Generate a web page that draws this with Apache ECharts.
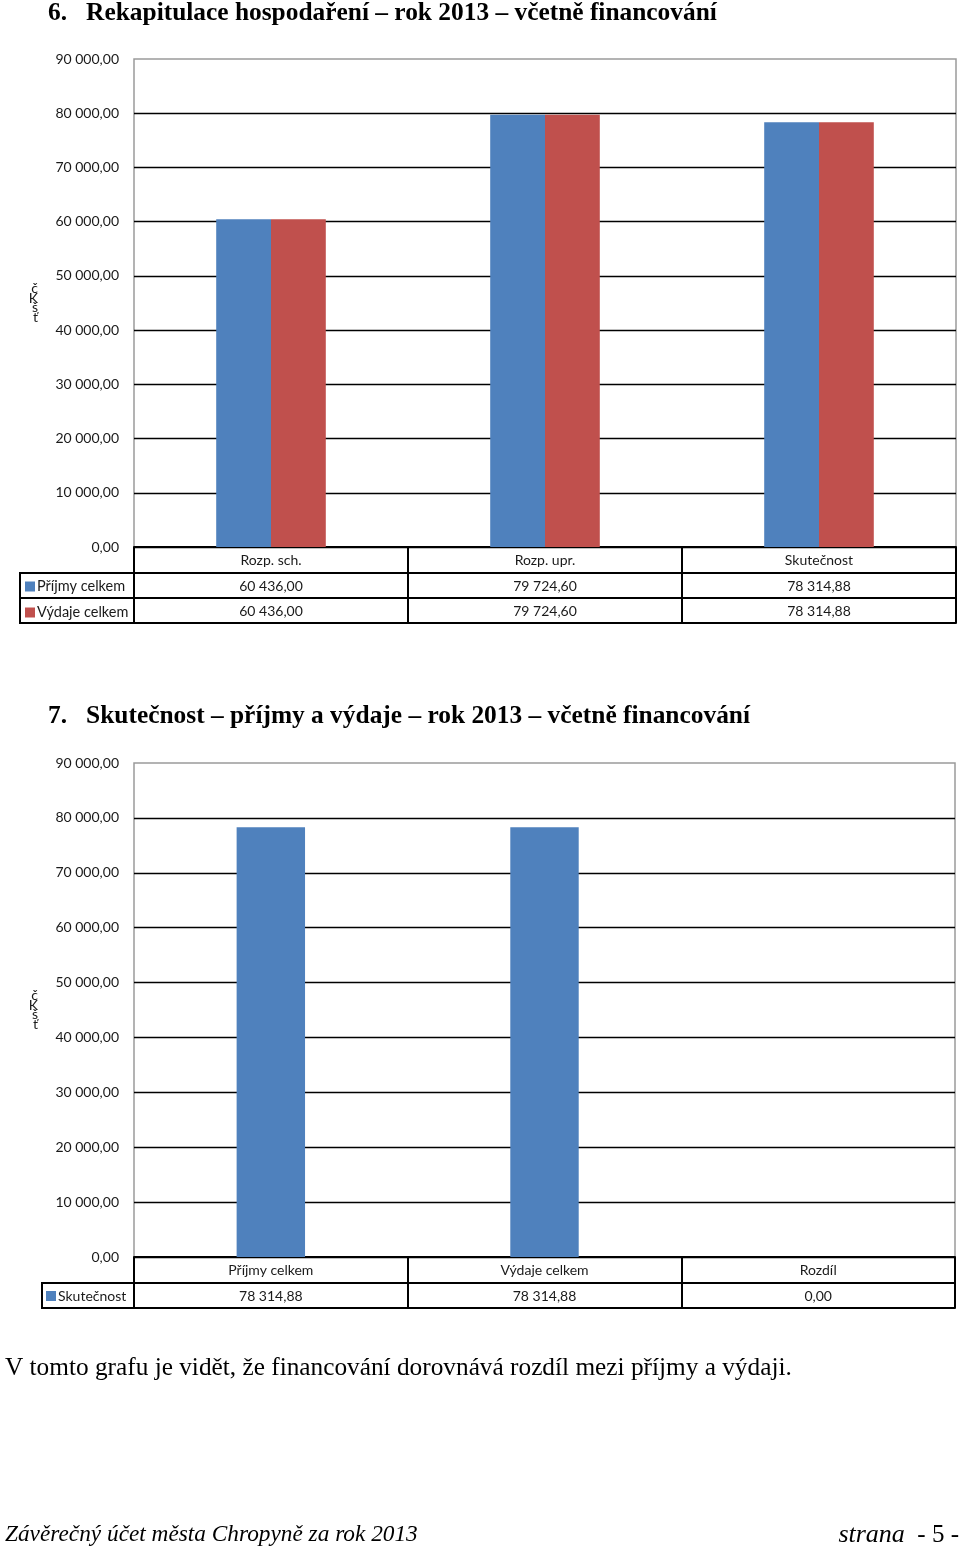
<!DOCTYPE html>
<html>
<head>
<meta charset="utf-8">
<script src="https://cdn.jsdelivr.net/npm/echarts@6/dist/echarts.min.js"></script>
<style>
html,body{margin:0;padding:0;background:#fff;}
#c{width:960px;height:1547px;}
</style>
</head>
<body>
<div id="c"></div>
<script>
// ---- data ----
const cats1 = ['Rozp. sch.', 'Rozp. upr.', 'Skutečnost'];
const prijmy1 = [60436.00, 79724.60, 78314.88];
const vydaje1 = [60436.00, 79724.60, 78314.88];
const cats2 = ['Příjmy celkem', 'Výdaje celkem', 'Rozdíl'];
const skutecnost2 = [78314.88, 78314.88, 0.00];
const yMin = 0, yMax = 90000, yStep = 10000;
const title1 = '6.\u2002 Rekapitulace hospodaření – rok 2013 – včetně financování';
const title2 = '7.\u2002 Skutečnost – příjmy a výdaje – rok 2013 – včetně financování';
const paragraph = 'V tomto grafu je vidět, že financování dorovnává rozdíl mezi příjmy a výdaji.';
const footerLeft = 'Závěrečný účet města Chropyně za rok 2013';
const yName = 'č\nK\nš\nť';

function fmt(v) {
  const s = Math.abs(v).toFixed(2).split('.');
  const i = s[0].replace(/\B(?=(\d{3})+(?!\d))/g, ' ');
  return (v < 0 ? '-' : '') + i + ',' + s[1];
}

const BLUE = '#4F81BD', RED = '#C0504D';
const FONT = 'Lato, "Open Sans", sans-serif';
const SERIF = '"Liberation Serif", "Times New Roman", "DejaVu Serif", serif';
const TXT = '#1a1a1a';
const LBL = {fontFamily: FONT, fontSize: 14, color: TXT, lineHeight: 14};

const chart = echarts.init(document.getElementById('c'), null, {renderer: 'canvas'});

function yAxisDef(gi) {
  return {
    type: 'value', gridIndex: gi, min: yMin, max: yMax, interval: yStep,
    axisLine: {show: false}, axisTick: {show: false},
    axisLabel: Object.assign({formatter: v => fmt(v), margin: 15}, LBL),
    splitLine: {show: true, showMaxLine: false, lineStyle: {color: '#000', width: 1.4}},
    name: yName, nameLocation: 'middle', nameRotate: 0, nameGap: 96,
    nameTextStyle: {fontFamily: FONT, fontSize: 14, lineHeight: 9.5, color: TXT}
  };
}
function mainX(gi, cats, tickLen) {
  return {
    type: 'category', gridIndex: gi, data: cats, position: 'bottom',
    axisLine: {show: true, lineStyle: {color: '#000', width: 2}},
    axisTick: {show: true, length: tickLen, lineStyle: {color: '#000', width: 2}},
    axisLabel: Object.assign({margin: 6}, LBL),
    splitLine: {show: false}
  };
}
function rowX(gi, labels, offset, showLabel) {
  return {
    type: 'category', gridIndex: gi, data: labels, position: 'bottom', offset: offset,
    axisLine: {show: true, lineStyle: {color: '#000', width: 2}},
    axisTick: {show: false},
    axisLabel: Object.assign({show: showLabel, margin: 6}, LBL),
    splitLine: {show: false}
  };
}

const G1 = {left: 134, top: 59, width: 822, height: 488};
const G2 = {left: 134, top: 763, width: 821, height: 494};
const g1b = G1.top + G1.height, g2b = G2.top + G2.height;

const option = {
  animation: false,
  backgroundColor: '#fff',
  title: [
    {text: title1, left: 48, top: 1, padding: 0, textStyle: {fontFamily: SERIF, fontWeight: 'bold', fontSize: 25.4, color: '#000'}},
    {text: title2, left: 48, top: 704, padding: 0, textStyle: {fontFamily: SERIF, fontWeight: 'bold', fontSize: 25.4, color: '#000'}},
    {text: paragraph, left: 5, top: 1356, padding: 0, textStyle: {fontFamily: SERIF, fontWeight: 'normal', fontSize: 25.3, color: '#000'}},
    {text: footerLeft, left: 5, top: 1523, padding: 0, textStyle: {fontFamily: SERIF, fontStyle: 'italic', fontWeight: 'normal', fontSize: 23.3, color: '#000'}},
    {text: '{a|strana}{b|  - 5 -}', right: 1, top: 1522, padding: 0, textStyle: {fontWeight: 'normal', rich: {
      a: {fontFamily: SERIF, fontStyle: 'italic', fontWeight: 'normal', fontSize: 26, color: '#000'},
      b: {fontFamily: SERIF, fontWeight: 'normal', fontSize: 25, color: '#000'}}}}
  ],
  legend: [
    {data: ['Příjmy celkem', 'Výdaje celkem'], orient: 'vertical', left: 25, top: g1b + 32, itemWidth: 10, itemHeight: 10, itemGap: 11,
     icon: 'rect', padding: 0, textStyle: {fontFamily: FONT, fontSize: 14.5, color: TXT, padding: [0, 0, 0, -3]}, selectedMode: false},
    {data: ['Skutečnost'], orient: 'vertical', left: 46, top: g2b + 32, itemWidth: 10, itemHeight: 10, itemGap: 11,
     icon: 'rect', padding: 0, textStyle: {fontFamily: FONT, fontSize: 14, color: TXT, padding: [0, 0, 0, -3]}, selectedMode: false}
  ],
  grid: [
    Object.assign({show: true, borderColor: '#9a9a9a', borderWidth: 1.5, backgroundColor: '#fff'}, G1),
    Object.assign({show: true, borderColor: '#9a9a9a', borderWidth: 1.5, backgroundColor: '#fff'}, G2)
  ],
  xAxis: [
    mainX(0, cats1, 76),
    rowX(0, prijmy1.map(fmt), 26, true),
    rowX(0, vydaje1.map(fmt), 51, true),
    rowX(0, cats1, 76, false),
    mainX(1, cats2, 51),
    rowX(1, skutecnost2.map(fmt), 26, true),
    rowX(1, cats2, 51, false)
  ],
  yAxis: [yAxisDef(0), yAxisDef(1)],
  series: [
    {name: 'Příjmy celkem', type: 'bar', xAxisIndex: 0, yAxisIndex: 0, data: prijmy1,
     itemStyle: {color: BLUE}, barGap: '0%', barCategoryGap: '60%'},
    {name: 'Výdaje celkem', type: 'bar', xAxisIndex: 0, yAxisIndex: 0, data: vydaje1,
     itemStyle: {color: RED}, barGap: '0%', barCategoryGap: '60%'},
    {name: 'Skutečnost', type: 'bar', xAxisIndex: 4, yAxisIndex: 1, data: skutecnost2,
     itemStyle: {color: BLUE}, barCategoryGap: '75%'}
  ],
  graphic: [
    // legend column borders of the data tables
    {type: 'polyline', shape: {points: [[G1.left, g1b + 26], [20, g1b + 26], [20, g1b + 76], [G1.left, g1b + 76]]},
     style: {stroke: '#000', lineWidth: 2, fill: null}},
    {type: 'line', shape: {x1: 20, y1: g1b + 51, x2: G1.left, y2: g1b + 51}, style: {stroke: '#000', lineWidth: 2}},
    {type: 'polyline', shape: {points: [[G2.left, g2b + 26], [42, g2b + 26], [42, g2b + 51], [G2.left, g2b + 51]]},
     style: {stroke: '#000', lineWidth: 2, fill: null}}
  ]
};
chart.setOption(option);
</script>
</body>
</html>
